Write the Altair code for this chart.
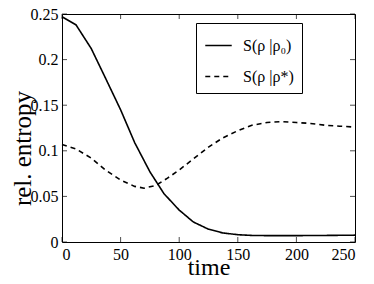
import altair as alt
import pandas as pd

# time samples
t_solid = [0, 12, 25, 37, 50, 62, 75, 87, 100, 112, 125, 137, 150, 162, 175, 200, 225, 250]
s_solid = [0.247, 0.238, 0.212, 0.180, 0.145, 0.109, 0.077, 0.053, 0.035, 0.022, 0.014, 0.010,
           0.008, 0.0072, 0.007, 0.007, 0.0072, 0.0075]
t_dash = [0, 12, 25, 37, 50, 62, 70, 80, 90, 100, 112, 125, 137, 150, 162, 175, 187, 200, 212, 225, 237, 250]
s_dash = [0.107, 0.102, 0.092, 0.079, 0.068, 0.061, 0.059, 0.062, 0.070, 0.079, 0.091, 0.104,
          0.114, 0.122, 0.128, 0.131, 0.132, 0.131, 0.130, 0.128, 0.127, 0.126]
series_names = ["S(ρ |ρ₀)", "S(ρ |ρ*)"]
x_ticks = [0, 50, 100, 150, 200, 250]
y_ticks = [0, 0.05, 0.1, 0.15, 0.2, 0.25]

df = pd.concat([
    pd.DataFrame({"time": t_solid, "val": s_solid, "series": series_names[0]}),
    pd.DataFrame({"time": t_dash, "val": s_dash, "series": series_names[1]}),
])
dfx = pd.DataFrame({"time": x_ticks})
dfy = pd.DataFrame({"val": y_ticks})

W, H = 293, 228
FONT = "Liberation Serif"
xscale = alt.Scale(domain=[0, 250], nice=False)
yscale = alt.Scale(domain=[0, 0.25], nice=False)

xaxis = alt.Axis(values=x_ticks, title="time", ticks=False, domain=False, grid=False,
                 labelFont=FONT, labelFontSize=16, labelPadding=4, labelColor="black",
                 titleFont=FONT, titleFontSize=24, titleFontWeight="normal",
                 titleColor="black", titleBaseline="alphabetic", titleY=32)
yaxis = alt.Axis(values=y_ticks, format=".2~f", title="rel. entropy", ticks=False,
                 domain=False, grid=False, labelFont=FONT, labelFontSize=16,
                 labelPadding=4, labelColor="black",
                 titleFont=FONT, titleFontSize=25, titleFontWeight="normal",
                 titleColor="black", titleAngle=270, titleBaseline="alphabetic",
                 titleAlign="center", titleX=-32, titleY=134)

lines = alt.Chart(df).mark_line(color="black", strokeWidth=1.6).encode(
    x=alt.X("time:Q", scale=xscale, axis=xaxis),
    y=alt.Y("val:Q", scale=yscale, axis=yaxis),
    strokeDash=alt.StrokeDash("series:N",
                              scale=alt.Scale(domain=series_names, range=[[1, 0], [5, 4]]),
                              legend=alt.Legend(title=None, orient="none", legendX=134, legendY=9,
                                                strokeColor="black", padding=8,
                                                symbolType="stroke", symbolSize=700,
                                                symbolStrokeWidth=1.6, symbolStrokeColor="black",
                                                labelFont=FONT, labelFontSize=16,
                                                labelColor="black", labelOffset=10,
                                                rowPadding=8, labelLimit=200)),
)

tick_style = dict(color="black", size=5, thickness=1)
xb = alt.Chart(dfx).mark_tick(orient="vertical", yOffset=-2.5, **tick_style).encode(
    x=alt.X("time:Q", scale=xscale, axis=xaxis), y=alt.value(H))
xt = alt.Chart(dfx).mark_tick(orient="vertical", yOffset=2.5, **tick_style).encode(
    x=alt.X("time:Q", scale=xscale, axis=xaxis), y=alt.value(0))
yl = alt.Chart(dfy).mark_tick(orient="horizontal", xOffset=2.5, **tick_style).encode(
    y=alt.Y("val:Q", scale=yscale, axis=yaxis), x=alt.value(0))
yr = alt.Chart(dfy).mark_tick(orient="horizontal", xOffset=-2.5, **tick_style).encode(
    y=alt.Y("val:Q", scale=yscale, axis=yaxis), x=alt.value(W))

chart = alt.layer(lines, xb, xt, yl, yr).properties(
    width=W, height=H,
    autosize=alt.AutoSizeParams(type="none"),
    padding={"left": 54, "top": 6, "right": 11, "bottom": 34},
).configure_view(stroke="black", strokeWidth=1).configure_axis(
    labelFont=FONT, titleFont=FONT
).configure_legend(labelFont=FONT)

chart.save("out.html", embed_options={"renderer": "svg", "actions": False})
